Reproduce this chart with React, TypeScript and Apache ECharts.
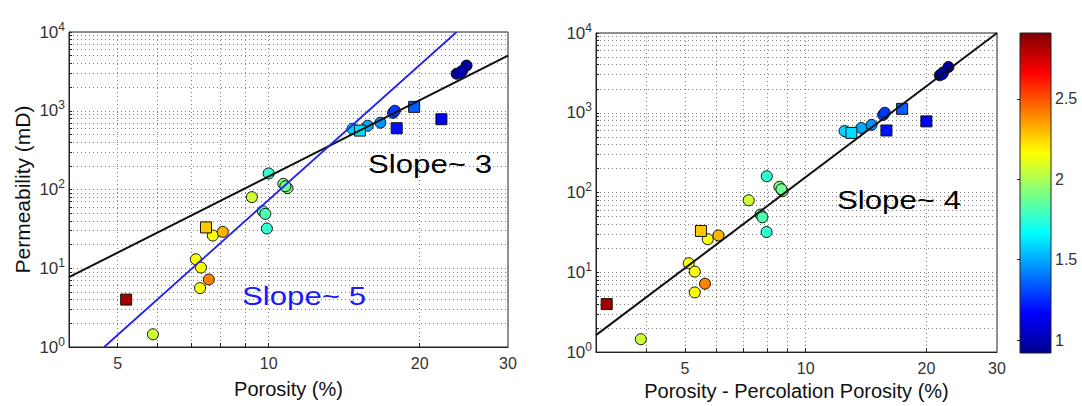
import React, { useEffect, useRef } from 'react';
import * as echarts from 'echarts';

// ---- data ----
const porosity = [5.2, 5.88, 7.16, 7.33, 7.3, 7.6, 7.5, 7.74, 8.1, 9.26, 9.74, 9.85, 9.92, 10.0, 10.7, 10.9, 10.8, 14.7, 15.2, 15.76, 16.7, 17.7, 17.85, 18.0, 19.5, 22.1, 23.7, 24.3, 24.8, 24.1];
const porosityMinusPercolation = [3.19, 3.88, 5.11, 5.29, 5.29, 5.61, 5.48, 5.7, 6.06, 7.21, 7.72, 7.8, 7.99, 8.0, 8.6, 8.76, 8.7, 12.5, 13.0, 13.76, 14.6, 15.6, 15.75, 15.9, 17.4, 20.0, 21.6, 22.0, 22.7, 21.9];
const permeability = [4.0, 1.45, 13, 10.2, 5.6, 7.2, 33, 26, 29, 80, 53, 49, 32, 160, 118, 104, 110, 590, 560, 645, 705, 940, 1000, 600, 1120, 780, 2950, 3200, 3750, 3050];
const colorValue = [2.85, 2.07, 2.15, 2.15, 2.15, 2.41, 2.27, 2.15, 2.31, 2.07, 1.84, 1.82, 1.76, 1.76, 1.92, 1.92, 1.88, 1.58, 1.6, 1.5, 1.45, 1.3, 1.28, 1.2, 1.35, 1.15, 1.0, 0.98, 0.96, 1.0];
const markerShape = ['square', 'circle', 'circle', 'circle', 'circle', 'circle', 'square', 'circle', 'circle', 'circle', 'circle', 'circle', 'circle', 'circle', 'circle', 'circle', 'circle', 'circle', 'square', 'circle', 'circle', 'circle', 'circle', 'square', 'square', 'square', 'circle', 'circle', 'circle', 'circle'];

const fitLeftSlope3 = [[4, 7.7], [30, 5000]];
const fitLeftSlope5 = [[4.7, 1], [23.7, 10000]];
const fitRightSlope4 = [[3, 1.63], [30, 10000]];

const xTicksLeft = [5, 6, 7, 8, 9, 10, 20];
const xTicksRight = [4, 5, 6, 7, 8, 9, 10, 20];
const xLabels = [5, 10, 20, 30];
const yMajor = [1, 10, 100, 1000, 10000];
const yMinorMultipliers = [1, 2, 3, 4, 5, 6, 7, 8, 9];
const colorbarTicks = [1, 1.5, 2, 2.5];
const colorbarMin = 0.92;
const colorbarMax = 2.91;
const jet = ['#00008f', '#0000ff', '#0080ff', '#00ffff', '#80ff80', '#ffff00', '#ff8000', '#ff0000', '#800000'];

const FONT = 'Liberation Sans, Arial, Helvetica, sans-serif';

export default function App() {
  const ref = useRef<HTMLDivElement>(null);

  useEffect(() => {
    if (!ref.current) return;
    const chart = echarts.init(ref.current, null, { renderer: 'svg' });

    const yTicks: number[] = [];
    yMajor.slice(0, 4).forEach((d) => yMinorMultipliers.forEach((m) => yTicks.push(d * m)));
    yTicks.push(10000);

    const pts = (xs: number[], shape: string) =>
      xs.map((x, i) => (markerShape[i] === shape ? [x, permeability[i], colorValue[i]] : null)).filter((p) => p !== null);

    const gridLine = { show: true, lineStyle: { color: '#808080', type: [1, 3], width: 1 } };
    const axisLine = { show: true, lineStyle: { color: '#222', width: 1 } };
    const tickLabel = { fontSize: 16, color: '#333', fontFamily: FONT };

    const makeX = (gridIndex: number, min: number, ticks: number[], name: string, nameGap: number) => ({
      type: 'log',
      logBase: 10,
      gridIndex,
      min,
      max: 30,
      name,
      nameLocation: 'middle',
      nameGap,
      nameTextStyle: { fontSize: 20, color: '#111', fontFamily: FONT },
      axisLine,
      axisTick: { show: true, inside: true, length: 4, customValues: ticks, lineStyle: { color: '#222' } },
      axisLabel: { ...tickLabel, margin: 8, customValues: xLabels, formatter: (v: number) => String(Math.round(v)) },
      splitLine: gridLine,
      minorTick: { show: false },
      minorSplitLine: { show: false },
    });

    const makeY = (gridIndex: number, name: string) => ({
      type: 'log',
      logBase: 10,
      gridIndex,
      min: 1,
      max: 10000,
      name,
      nameLocation: 'middle',
      nameGap: 36,
      nameTextStyle: { fontSize: 21, color: '#111', fontFamily: FONT },
      axisLine,
      axisTick: { show: true, inside: true, length: 3, customValues: yTicks, lineStyle: { color: '#222' } },
      axisLabel: {
        margin: 4,
        fontSize: 17,
        color: '#333',
        fontFamily: FONT,
        customValues: yMajor,
        formatter: (v: number) => `{b|10}{s|${Math.round(Math.log10(v))}}`,
        rich: {
          b: { fontSize: 17, color: '#333', fontFamily: FONT },
          s: { fontSize: 12, color: '#333', fontFamily: FONT, padding: [0, 0, 11, 0] },
        },
      },
      splitLine: gridLine,
    });

    const scatterStyle = { borderColor: '#111', borderWidth: 1, opacity: 1 };

    const option: any = {
      animation: false,
      backgroundColor: '#fff',
      grid: [
        { left: 69, top: 32, width: 439, height: 315, show: true, borderColor: '#222', borderWidth: 1, backgroundColor: '#fff' },
        { left: 596, top: 33, width: 401, height: 320, show: true, borderColor: '#222', borderWidth: 1, backgroundColor: '#fff' },
        { left: 1020, top: 33, width: 31, height: 320, show: false },
      ],
      xAxis: [
        makeX(0, 4, xTicksLeft, 'Porosity (%)', 32),
        makeX(1, 3, xTicksRight, 'Porosity - Percolation Porosity (%)', 27),
        { type: 'value', gridIndex: 2, min: 0, max: 1, show: false },
      ],
      yAxis: [
        makeY(0, 'Permeability (mD)'),
        { ...makeY(1, ''), name: '' },
        {
          type: 'value',
          gridIndex: 2,
          min: colorbarMin,
          max: colorbarMax,
          position: 'right',
          axisLine: { show: false },
          axisTick: { show: true, inside: true, length: 3, customValues: colorbarTicks, lineStyle: { color: '#222' } },
          axisLabel: { ...tickLabel, margin: 4, customValues: colorbarTicks, formatter: (v: number) => String(v) },
          splitLine: { show: false },
        },
      ],
      visualMap: {
        show: false,
        type: 'continuous',
        min: colorbarMin,
        max: colorbarMax,
        dimension: 2,
        seriesIndex: [0, 1, 2, 3],
        inRange: { color: jet },
      },
      series: [
        { type: 'scatter', xAxisIndex: 0, yAxisIndex: 0, symbol: 'circle', symbolSize: 11, itemStyle: scatterStyle, data: pts(porosity, 'circle'), z: 3 },
        { type: 'scatter', xAxisIndex: 0, yAxisIndex: 0, symbol: 'rect', symbolSize: 11, itemStyle: scatterStyle, data: pts(porosity, 'square'), z: 3 },
        { type: 'scatter', xAxisIndex: 1, yAxisIndex: 1, symbol: 'circle', symbolSize: 11, itemStyle: scatterStyle, data: pts(porosityMinusPercolation, 'circle'), z: 3 },
        { type: 'scatter', xAxisIndex: 1, yAxisIndex: 1, symbol: 'rect', symbolSize: 11, itemStyle: scatterStyle, data: pts(porosityMinusPercolation, 'square'), z: 3 },
        { type: 'line', xAxisIndex: 0, yAxisIndex: 0, data: fitLeftSlope3, symbol: 'none', lineStyle: { color: '#111', width: 2 }, z: 4, silent: true },
        { type: 'line', xAxisIndex: 0, yAxisIndex: 0, data: fitLeftSlope5, symbol: 'none', lineStyle: { color: '#2222ee', width: 1.8 }, z: 4, silent: true },
        { type: 'line', xAxisIndex: 1, yAxisIndex: 1, data: fitRightSlope4, symbol: 'none', lineStyle: { color: '#111', width: 2 }, z: 4, silent: true },
        {
          type: 'custom',
          xAxisIndex: 2,
          yAxisIndex: 2,
          silent: true,
          data: [[0, colorbarMin]],
          renderItem: (_p: any, api: any) => {
            const a = api.coord([0, colorbarMax]);
            const b = api.coord([1, colorbarMin]);
            return {
              type: 'rect',
              shape: { x: a[0], y: a[1], width: b[0] - a[0], height: b[1] - a[1] },
              style: {
                fill: new echarts.graphic.LinearGradient(0, 1, 0, 0, jet.map((c, i) => ({ offset: i / (jet.length - 1), color: c }))),
                stroke: '#222',
                lineWidth: 1,
              },
            };
          },
        },
      ],
      graphic: [
        { type: 'text', x: 368, y: 164, scaleX: 1.2, silent: true, style: { text: 'Slope~ 3', fontSize: 26, fontFamily: FONT, fill: '#000', verticalAlign: 'middle', textVerticalAlign: 'middle' }, z: 10 },
        { type: 'text', x: 242, y: 296, scaleX: 1.2, silent: true, style: { text: 'Slope~ 5', fontSize: 26, fontFamily: FONT, fill: '#1a1aff', verticalAlign: 'middle', textVerticalAlign: 'middle' }, z: 10 },
        { type: 'text', x: 837, y: 200, scaleX: 1.2, silent: true, style: { text: 'Slope~ 4', fontSize: 26, fontFamily: FONT, fill: '#000', verticalAlign: 'middle', textVerticalAlign: 'middle' }, z: 10 },
      ],
    };

    chart.setOption(option);
    return () => chart.dispose();
  }, []);

  return <div ref={ref} style={{ position: 'fixed', left: 0, top: 0, width: 1082, height: 406, background: '#fff' }} />;
}
